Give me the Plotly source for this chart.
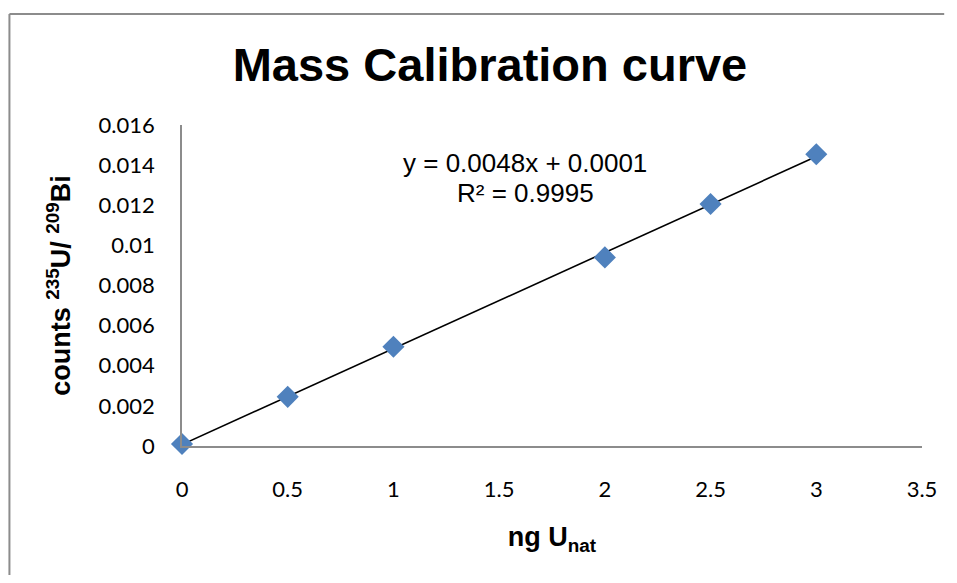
import numpy as np
import plotly.graph_objects as go

x_ng = [0, 0.5, 1, 2, 2.5, 3]
counts_ratio = [0.0001, 0.00245, 0.00495, 0.0094, 0.01206, 0.01454]
x_ticks = [0, 0.5, 1, 1.5, 2, 2.5, 3, 3.5]
y_ticks = [0, 0.002, 0.004, 0.006, 0.008, 0.01, 0.012, 0.014, 0.016]
eq_line1 = "y = 0.0048x + 0.0001"
eq_line2 = "R² = 0.9995"

slope, intercept = np.polyfit(x_ng, counts_ratio, 1)
fit_x = [min(x_ng), max(x_ng)]
fit_y = [slope * v + intercept for v in fit_x]

fig = go.Figure()
fig.add_trace(go.Scatter(x=fit_x, y=fit_y, mode="lines",
                         line=dict(color="black", width=1.6), showlegend=False))
fig.add_trace(go.Scatter(x=x_ng, y=counts_ratio, mode="markers",
                         marker=dict(symbol="diamond", size=17, color="#4F81BD",
                                     line=dict(width=0)),
                         showlegend=False, cliponaxis=False))

border = dict(color="#8c8c8c", width=2)
fig.update_layout(
    width=941, height=567,
    margin=dict(l=174, r=25, t=117, b=129),
    paper_bgcolor="white", plot_bgcolor="white",
    title=dict(text="<b>Mass Calibration curve</b>", x=0.5122, xanchor="center",
               y=0.8995, yanchor="middle",
               font=dict(family="Liberation Sans, Arial", size=47, color="black")),
    xaxis=dict(range=[0, 3.5], tickvals=x_ticks, ticktext=[f"{v:g}" for v in x_ticks],
               showgrid=False, zeroline=False, showline=True, linecolor="#8c8c8c",
               linewidth=1.5, ticks="", ticklabelstandoff=23,
               tickfont=dict(family="Lato, Open Sans", size=22, color="black"),
               title=dict(text="<b>ng U<sub>nat</sub></b>", standoff=26,
                          font=dict(family="Liberation Sans, Arial", size=27, color="black"))),
    yaxis=dict(range=[0, 0.016], tickvals=y_ticks, ticktext=[f"{v:g}" for v in y_ticks],
               showgrid=False, zeroline=False, showline=True, linecolor="#8c8c8c",
               linewidth=1.5, ticks="", ticklabelstandoff=21,
               tickfont=dict(family="Lato, Open Sans", size=22, color="black"),
               title=dict(text="<b>counts <sup>235</sup>U/ <sup>209</sup>Bi</b>", standoff=20,
                          font=dict(family="Liberation Sans, Arial", size=27, color="black"))),
    annotations=[
        dict(text=eq_line1, x=1.6226, y=0.014106, xref="x", yref="y",
             showarrow=False, font=dict(family="Liberation Sans, Arial", size=26, color="black")),
        dict(text=eq_line2, x=1.6226, y=0.012611, xref="x", yref="y",
             showarrow=False, font=dict(family="Liberation Sans, Arial", size=26, color="black")),
    ],
    shapes=[
        dict(type="line", xref="paper", yref="paper",
             x0=-0.2332, x1=1.03, y0=1.3458, y1=1.3458, line=border),
        dict(type="line", xref="paper", yref="paper",
             x0=-0.2332, x1=-0.2332, y0=-0.45, y1=1.3458, line=border),
    ],
)

fig.write_html("out.html")
